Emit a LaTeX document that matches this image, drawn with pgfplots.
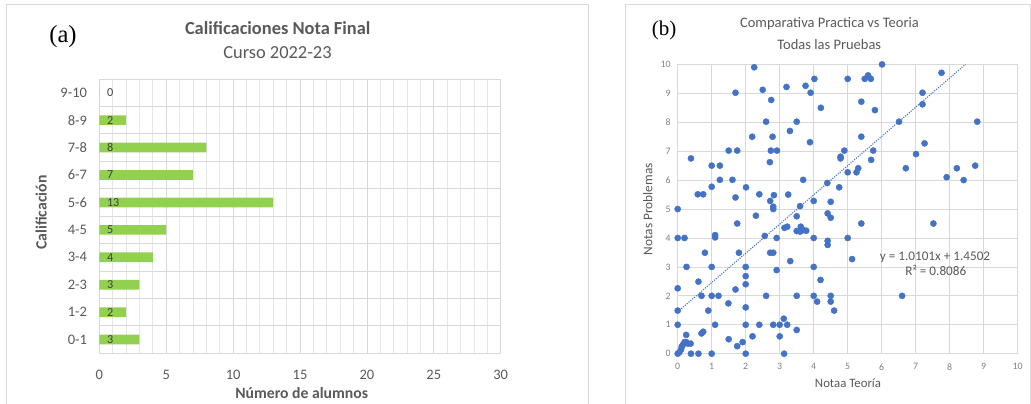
\documentclass[border=0pt]{standalone}
\usepackage{fontspec}
\setmainfont{Carlito}
\newfontfamily\serif{Liberation Serif}
\usepackage{pgfplots}
\pgfplotsset{compat=1.18}
\definecolor{txt}{HTML}{595959}
\definecolor{lbl}{HTML}{404040}
\definecolor{tck}{HTML}{7F7F7F}
\definecolor{grd}{HTML}{D9D9D9}
\definecolor{mgrd}{HTML}{E6E6E6}
\definecolor{barg}{HTML}{92D050}
\definecolor{dot}{HTML}{4472C4}
\newcommand\fs[1]{\fontsize{#1}{#1}\selectfont}
\begin{document}
\begin{tikzpicture}
\useasboundingbox (0pt,0pt) rectangle (1031pt,404pt);
\draw[grd, line width=0.8pt] (6.7pt,-5pt) rectangle (588pt,400pt);
\draw[grd, line width=0.8pt] (625pt,-5pt) rectangle (1030.3pt,400pt);
% ---------- (a) ----------
\begin{axis}[
  at={(99.3pt,50.7pt)}, anchor=south west, scale only axis,
  width=401.4pt, height=274.3pt,
  xmin=0, xmax=30, ymin=-0.5, ymax=9.5,
  xtick={0,5,...,30}, minor x tick num=4,
  ytick={0,...,9},
  yticklabels={0-1,1-2,2-3,3-4,4-5,5-6,6-7,7-8,8-9,9-10},
  xmajorgrids=true, xminorgrids=true,
  major grid style={draw=grd, line width=0.8pt},
  minor grid style={draw=mgrd, line width=0.8pt},
  extra y ticks={-0.5,0.5,...,9.5}, extra y tick labels={},
  extra y tick style={ymajorgrids=true},
  axis line style={draw=none},
  major tick length=0pt, minor tick length=0pt,
  tick label style={font=\fs{14.5}, text=txt},
  /pgf/number format/assume math mode=true,
  xticklabel shift=12.9pt, yticklabel shift=8.8pt,
  clip=false,
]
\addplot[xbar, bar width=9.7pt, fill=barg, draw=none] coordinates {
  (3,0) (2,1) (3,2) (4,3) (5,4) (13,5) (7,6) (8,7) (2,8) (0,9)};
\addplot[draw=none, mark=none, nodes near coords, point meta=explicit symbolic,
  every node near coord/.append style={anchor=west, xshift=4.2pt, font=\fs{12.2}, text=lbl}]
  coordinates {(0,0) [3] (0,1) [2] (0,2) [3] (0,3) [4] (0,4) [5]
               (0,5) [13] (0,6) [7] (0,7) [8] (0,8) [2] (0,9) [0]};
\end{axis}
\node[anchor=base, font=\serif\fs{24.6}] at (63pt,361.7pt) {(a)};
\node[anchor=base, font=\bfseries\fs{18.4}, text=txt] at (277.7pt,369pt) {Calificaciones Nota Final};
\node[anchor=base, font=\fs{18.4}, text=txt] at (277.5pt,345pt) {Curso 2022-23};
\node[anchor=base, font=\bfseries\fs{15.7}, text=txt] at (301.7pt,5.7pt) {Número de alumnos};
\node[anchor=base, rotate=90, font=\bfseries\fs{15.7}, text=txt] at (46.7pt,191.5pt) {Calificación};
% ---------- (b) ----------
\begin{axis}[
  at={(677.7pt,50.3pt)}, anchor=south west, scale only axis,
  width=340pt, height=289.3pt,
  xmin=0, xmax=10, ymin=0, ymax=10,
  xtick={0,...,10}, ytick={0,...,10},
  grid=major, major grid style={draw=grd, line width=0.8pt},
  axis line style={draw=grd, line width=0.8pt},
  major tick length=0pt,
  tick label style={font=\fs{9.8}, text=tck},
  /pgf/number format/assume math mode=true,
  xticklabel shift=6.3pt, yticklabel shift=3.7pt,
]
\addplot[only marks, color=dot, mark=*, mark size=3.1pt, mark options={draw=dot, fill=dot, line width=0.4pt}] table {
x y
0 5.0
0 4.0
0.2 4.0
0.26 3.0
0 2.26
0 1.49
0 1.0
0 0
0.05 0.05
0.1 0.15
0.12 0.25
0.15 0.3
0.2 0.4
0.25 0.4
0.25 0.65
0.3 0.35
0.38 0.35
0.39 0
0.61 0
1.0 0
0.61 2.49
0.7 2.0
0.8 3.49
0.7 0.7
0.75 0.76
0.9 1.49
1.0 3.0
1.0 2.0
1.1 4.1
1.1 4.02
1.1 1.0
1.2 2.0
1.49 1.74
1.5 0.5
1.7 2.22
1.75 4.5
1.8 3.49
1.75 0.26
1.91 0.4
2.0 3.0
2.0 2.68
2.0 2.4
2.0 1.6
2.0 1.0
2.0 0
2.2 0.6
2.3 4.77
2.4 1.0
2.56 4.07
2.6 2.0
2.72 5.28
2.81 5.08
2.81 5.0
2.72 3.49
2.81 3.49
2.91 4.0
2.91 2.89
2.81 1.0
3.0 1.0
3.0 0.6
3.12 1.21
3.22 1.0
3.13 0
3.14 4.35
3.22 4.39
3.31 3.2
3.5 4.75
3.6 5.1
3.5 4.24
3.6 4.22
3.62 4.39
3.7 4.27
3.78 4.25
3.5 2.0
3.5 0.82
4.0 5.28
4.0 4.0
4.0 3.0
4.0 2.0
4.1 1.8
4.2 2.55
4.41 4.85
4.41 3.9
4.41 3.76
4.5 5.25
4.5 4.7
4.5 2.0
4.5 1.8
4.6 1.49
5.4 4.5
5.0 4.0
5.13 3.27
6.6 2.0
7.52 4.5
2.25 9.9
1.7 9.02
2.5 9.12
2.75 8.77
3.2 9.22
3.76 9.26
4.02 9.5
3.91 9.02
5.0 9.5
5.5 9.5
5.6 9.62
5.68 9.5
5.4 8.71
4.21 8.5
2.6 8.02
3.5 8.02
3.3 7.7
2.19 7.5
2.79 7.5
5.4 7.5
3.89 7.31
1.5 7.02
1.75 7.02
2.74 7.02
2.92 7.02
1.24 6.5
1.0 6.5
2.71 6.62
1.24 6.01
1.61 6.01
2.01 5.75
1.7 5.4
2.4 5.51
2.83 5.48
3.25 5.5
3.69 6.01
4.4 5.9
4.75 5.75
4.79 6.81
4.79 6.75
4.9 7.02
5.0 6.27
5.26 6.27
5.31 6.41
5.69 6.7
5.75 7.02
0.39 6.75
0.59 5.51
0.75 5.51
1.0 5.77
6.01 10.0
7.76 9.71
7.2 9.02
7.2 8.62
5.8 8.42
6.51 8.02
8.81 8.02
7.26 7.27
7.01 6.9
6.71 6.41
7.91 6.1
8.21 6.41
8.41 6.0
8.75 6.5
};
\addplot[dot, line width=1.1pt, dash pattern=on 1.1pt off 1.3pt] coordinates {(0,1.4502) (8.4645,10)};
\end{axis}
\node[anchor=base, font=\serif\fs{21}] at (664pt,368.5pt) {(b)};
\node[anchor=base, font=\fs{14.5}, text=txt] at (829.5pt,376pt) {Comparativa Practica vs Teoria};
\node[anchor=base, font=\fs{14.5}, text=txt] at (829.3pt,354pt) {Todas las Pruebas};
\node[anchor=base, rotate=90, font=\fs{13.3}, text=txt] at (652.3pt,194.8pt) {Notas Problemas};
\node[anchor=base, font=\fs{12.8}, text=txt] at (848pt,16.3pt) {Notaa Teoría};
\node[anchor=base, font=\fs{13.2}, text=txt] at (935pt,143pt) {y = 1.0101x + 1.4502};
\node[anchor=base, font=\fs{13.2}, text=txt] at (935.8pt,128pt) {R² = 0.8086};
\end{tikzpicture}
\end{document}
